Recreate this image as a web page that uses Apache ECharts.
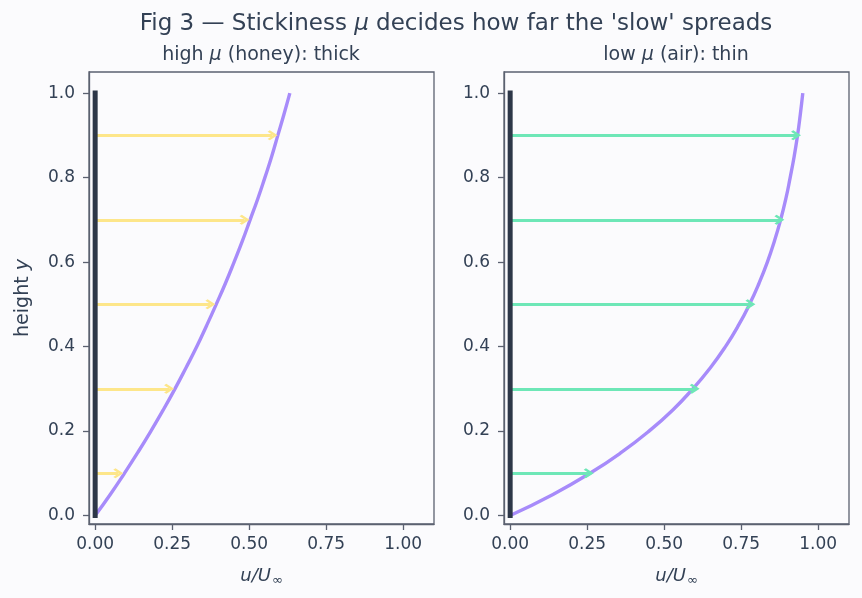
<!DOCTYPE html>
<html>
<head>
<meta charset="utf-8">
<script src="https://cdn.jsdelivr.net/npm/echarts@6/dist/echarts.min.js"></script>
<style>
  html, body { margin: 0; padding: 0; background: #fbfbfd; }
  #chart { width: 862px; height: 598px; }
</style>
</head>
<body>
<div id="chart"></div>
<script>
  // heights sampled along the profile
  const heights = [0, 0.05, 0.1, 0.15, 0.2, 0.25, 0.3, 0.35, 0.4, 0.45, 0.5,
                   0.55, 0.6, 0.65, 0.7, 0.75, 0.8, 0.85, 0.9, 0.95, 1]
  // high mu (honey) -> thick layer
  const thickU = [0, 0.049, 0.095, 0.139, 0.181, 0.221, 0.259, 0.295, 0.330, 0.362, 0.393,
                  0.423, 0.451, 0.478, 0.503, 0.528, 0.551, 0.573, 0.593, 0.613, 0.632]
  // low mu (air) -> thin layer
  const thinU = [0, 0.139, 0.259, 0.362, 0.451, 0.528, 0.593, 0.650, 0.699, 0.741, 0.777,
                 0.808, 0.835, 0.858, 0.878, 0.895, 0.909, 0.922, 0.933, 0.942, 0.950]
  const arrowY = [0.1, 0.3, 0.5, 0.7, 0.9]
  const thickArrowTip = [0.075, 0.24, 0.374, 0.485, 0.576]
  const thinArrowTip = [0.255, 0.599, 0.78, 0.874, 0.928]
  const xTicks = [0, 0.25, 0.5, 0.75, 1]
  const yTicks = [0, 0.2, 0.4, 0.6, 0.8, 1]

  const textColor = '#334155'
  const frameColor = '#5b6170'
  const curveColor = '#a78bfa'
  const wallColor = '#2d3748'
  const chevron = 'path://M0,0 L7,7 L5,9 L0,4 L-5,9 L-7,7 Z'

  const chart = echarts.init(document.getElementById('chart'))

  function xAxisFor(idx) {
    return {
      type: 'value', gridIndex: idx, min: -0.02, max: 1.1,
      axisLine: { show: true, onZero: false, lineStyle: { color: frameColor, width: 1.3 } },
      splitLine: { show: false },
      axisTick: { show: true, customValues: xTicks, length: 6,
                  lineStyle: { color: frameColor, width: 1.3 } },
      axisLabel: { customValues: xTicks, color: textColor, fontSize: 17, margin: 12,
                   fontFamily: 'DejaVu Sans', formatter: v => v.toFixed(2) },
      name: '{i|u/U}{s|∞}', nameLocation: 'middle', nameGap: 42,
      nameTextStyle: {
        rich: {
          i: { fontStyle: 'italic', fontSize: 18, color: textColor, fontFamily: 'DejaVu Sans' },
          s: { fontSize: 13, color: textColor, fontFamily: 'DejaVu Sans', padding: [8, 0, 0, 1] }
        }
      }
    }
  }

  function yAxisFor(idx, withName) {
    return {
      type: 'value', gridIndex: idx, min: -0.02, max: 1.05,
      axisLine: { show: true, onZero: false, lineStyle: { color: frameColor, width: 1.3 } },
      splitLine: { show: false },
      axisTick: { show: true, customValues: yTicks, length: 6,
                  lineStyle: { color: frameColor, width: 1.3 } },
      axisLabel: { customValues: yTicks, color: textColor, fontSize: 17, margin: 14,
                   fontFamily: 'DejaVu Sans', formatter: v => v.toFixed(1) },
      name: withName ? 'height {i|y}' : '', nameLocation: 'middle', nameGap: 56,
      nameTextStyle: {
        color: textColor, fontSize: 19, fontFamily: 'DejaVu Sans',
        rich: { i: { fontStyle: 'italic', fontSize: 19, color: textColor, fontFamily: 'DejaVu Sans' } }
      }
    }
  }

  function profile(idx, us) {
    return {
      type: 'line', xAxisIndex: idx, yAxisIndex: idx, smooth: true,
      symbol: 'none', z: 3,
      lineStyle: { color: curveColor, width: 3.4 },
      data: us.map((u, i) => [u, heights[i]])
    }
  }

  function wall(idx) {
    return {
      type: 'line', xAxisIndex: idx, yAxisIndex: idx, symbol: 'none', z: 5,
      lineStyle: { color: wallColor, width: 5, cap: 'square' },
      data: [[0, 0], [0, 1]]
    }
  }

  function arrows(idx, tips, color) {
    return {
      type: 'lines', coordinateSystem: 'cartesian2d', xAxisIndex: idx, yAxisIndex: idx,
      z: 4, symbol: ['none', chevron], symbolSize: [14, 10],
      lineStyle: { color: color, width: 2.8, opacity: 1, curveness: 0 },
      data: tips.map((t, i) => ({ coords: [[0, arrowY[i]], [t, arrowY[i]]] }))
    }
  }

  function muTitle(text, left, top, size) {
    return {
      text: text, left: left, top: top, textAlign: 'center', padding: 0,
      textStyle: { color: textColor, fontSize: size, fontWeight: 'normal', fontFamily: 'DejaVu Sans',
                   rich: { m: { fontStyle: 'italic', fontSize: size, fontFamily: 'DejaVu Sans', color: textColor } } }
    }
  }

  chart.setOption({
    backgroundColor: '#fbfbfd',
    animation: false,
    title: [
      muTitle('Fig 3 — Stickiness {m|μ} decides how far the \'slow\' spreads', 456, 13, 23),
      muTitle('high {m|μ} (honey): thick', 261, 46, 19),
      muTitle('low {m|μ} (air): thin', 676, 46, 19)
    ],
    grid: [
      { left: 89, right: 428, top: 72, bottom: 74, show: true, borderColor: frameColor, borderWidth: 1.3, backgroundColor: 'transparent' },
      { left: 504, right: 13, top: 72, bottom: 74, show: true, borderColor: frameColor, borderWidth: 1.3, backgroundColor: 'transparent' }
    ],
    xAxis: [xAxisFor(0), xAxisFor(1)],
    yAxis: [yAxisFor(0, true), yAxisFor(1, false)],
    series: [
      profile(0, thickU),
      arrows(0, thickArrowTip, '#fde68a'),
      wall(0),
      profile(1, thinU),
      arrows(1, thinArrowTip, '#6ee7b7'),
      wall(1)
    ]
  })
</script>
</body>
</html>
